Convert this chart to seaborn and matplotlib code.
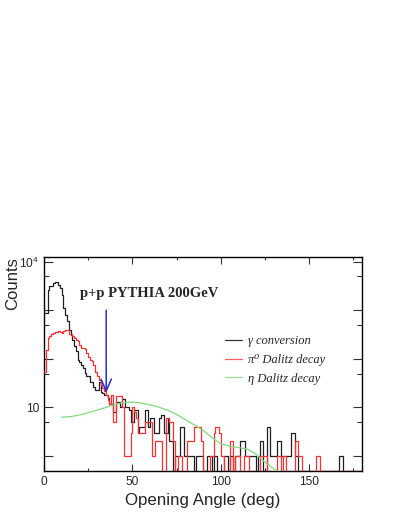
import numpy as np
import pandas as pd
import seaborn as sns
import matplotlib.pyplot as plt
from matplotlib.lines import Line2D


# ==============================
# Data (1 deg bins from 0 to 180)
# ==============================
bin_edges = list(range(0, 181))

gamma_counts = [
    900, 900, 2640, 3100, 3100, 3600, 3800, 3800, 3330, 2880,   # 0-9
    2100, 1120, 810, 590, 400, 315, 250, 180, 145, 96,          # 10-19
    86, 76, 65, 51, 44, 44, 34, 34, 27, 23,                     # 20-29
    23, 34, 21, 20, 18, 18, 16, 12, 12, 8,                      # 30-39
    8, 13, 13, 10, 15, 15, 10, 10, 9, 5,                        # 40-49
    5, 9, 9, 3, 4, 4, 4, 9, 9, 4,                               # 50-59
    6, 6, 3, 3, 3, 6, 7, 7, 3, 3,                               # 60-69
    6, 2, 2, 0, 1, 1, 1, 4, 4, 1,                               # 70-79
    1, 1, 1, 1, 1, 0, 1, 1, 1, 1,                               # 80-89
    0, 0, 1, 1, 1, 0, 1, 1, 0, 0,                               # 90-99
    0, 0, 1, 1, 0, 1, 1, 0, 1, 1,                               # 100-109
    1, 2, 2, 2, 1, 1, 1, 1, 1, 1,                               # 110-119
    0, 1, 2, 2, 0, 0, 4, 4, 1, 1,                               # 120-129
    1, 1, 2, 2, 1, 1, 1, 1, 1, 1,                               # 130-139
    3, 3, 1, 1, 0, 0, 0, 0, 0, 0,                               # 140-149
    0, 0, 0, 0, 0, 0, 0, 0, 0, 0,                               # 150-159
    0, 0, 0, 0, 0, 0, 0, 1, 1, 0,                               # 160-169
    0, 0, 0, 0, 0, 0, 0, 0, 0, 0,                               # 170-179
]

pi0_counts = [
    55, 154, 270, 300, 320, 340, 350, 360, 370, 360,            # 0-9
    340, 380, 400, 400, 330, 320, 300, 270, 250, 230,           # 10-19
    190, 170, 167, 160, 131, 110, 96, 90, 76, 55,               # 20-29
    45, 37, 29, 25, 22, 18, 14, 12, 18, 5,                      # 30-39
    5, 17, 17, 17, 10, 1, 1, 1, 1, 3,                           # 40-49
    10, 8, 6, 3, 3, 3, 3, 5, 5, 5,                              # 50-59
    5, 1, 1, 2, 2, 2, 2, 0, 0, 6,                               # 60-69
    6, 5, 5, 2, 0, 0, 1, 1, 0, 0,                               # 70-79
    0, 2, 2, 2, 2, 4, 4, 4, 4, 2,                               # 80-89
    0, 0, 0, 0, 1, 1, 3, 4, 4, 3,                               # 90-99
    1, 1, 0, 0, 0, 2, 2, 0, 1, 1,                               # 100-109
    1, 0, 0, 1, 1, 1, 0, 0, 0, 0,                               # 110-119
    0, 0, 1, 1, 1, 1, 0, 0, 0, 0,                               # 120-129
    0, 0, 1, 1, 0, 1, 1, 0, 0, 0,                               # 130-139
    0, 0, 2, 2, 1, 1, 0, 0, 0, 0,                               # 140-149
    0, 0, 0, 0, 1, 1, 0, 0, 0, 0,                               # 150-159
    0, 0, 0, 0, 0, 0, 0, 0, 0, 0,                               # 160-169
    0, 0, 0, 0, 0, 0, 0, 0, 0, 0,                               # 170-179
]

# eta Dalitz curve, sampled points
eta_angle = [10, 15, 20, 25, 30, 35, 40, 45, 50, 55, 60, 65, 70, 75, 80,
             85, 90, 95, 100, 105, 110, 115, 120, 125, 130, 132]
eta_counts = [6.3, 6.5, 7.0, 7.8, 8.8, 10.0, 11.5, 12.6, 12.9, 12.4, 11.3,
              10.2, 8.8, 7.2, 5.6, 4.4, 3.4, 2.4, 1.8, 1.6, 1.5, 1.4, 1.1,
              0.75, 0.55, 0.5]

legend_labels = ["\u03b3 conversion", "\u03c0\u2070 Dalitz decay", "\u03b7 Dalitz decay"]

# cut marker (arrow)
arrow_angle = 35.2
arrow_top = 1000
arrow_tip = 20

Y_MIN, Y_MAX = 0.5, 12500

COL_GAMMA = "#202020"
COL_PI0 = "#ff3030"
COL_ETA = "#7fdc7f"


# ==============================
# Style
# ==============================
sns.set_style("ticks")
plt.rcParams["font.family"] = ["Liberation Sans", "DejaVu Sans"]
plt.rcParams["mathtext.fontset"] = "custom"
plt.rcParams["mathtext.rm"] = "Liberation Sans"

fig = plt.figure(figsize=(3.99, 5.16), dpi=100)
ax = fig.add_axes([0.1103, 0.0878, 0.797, 0.4141])

centers = np.array(bin_edges[:-1]) + 0.5
df = pd.DataFrame({
    "angle": np.concatenate([centers, centers]),
    "count": np.concatenate([gamma_counts, pi0_counts]),
    "source": ["gamma"] * len(centers) + ["pi0"] * len(centers),
})
# empty bins are drawn on the lower frame like ROOT does
df["shown"] = df["count"].where(df["count"] > 0, Y_MIN)

for src, col in [("gamma", COL_GAMMA), ("pi0", COL_PI0)]:
    sns.histplot(
        data=df[df["source"] == src],
        x="angle",
        weights="shown",
        bins=bin_edges,
        element="step",
        fill=False,
        color=col,
        linewidth=0.9,
        ax=ax,
        zorder=3,
    )

sns.lineplot(x=eta_angle, y=eta_counts, color=COL_ETA, linewidth=0.9, ax=ax, zorder=3)

ax.annotate(
    "",
    xy=(arrow_angle, arrow_tip),
    xytext=(arrow_angle, arrow_top),
    arrowprops=dict(arrowstyle="->,head_length=0.85,head_width=0.37", color="#2b2bd8",
                    lw=1.1, shrinkA=0, shrinkB=0),
    zorder=4,
)

ax.set_yscale("log")
ax.set_xlim(0, 180)
ax.set_ylim(Y_MIN, Y_MAX)

# ticks
ax.set_xticks([0, 50, 100, 150])
ax.set_xticks([25, 75, 125, 175], minor=True)
ax.set_yticks([1, 10, 100, 1000, 10000])
ax.set_yticklabels(["", "10", "", "", r"$10^{4}$"])
ax.set_yticks([5, 50, 500, 5000], minor=True)
ax.set_yticklabels([], minor=True)
ax.tick_params(axis="both", which="both", direction="in", top=True, right=True,
               labelsize=8.6, pad=3.5, width=0.8, color="#333333")
ax.tick_params(axis="x", which="major", length=5)
ax.tick_params(axis="x", which="minor", length=2.5)
ax.tick_params(axis="y", which="major", length=6.5)
ax.tick_params(axis="y", which="minor", length=3.5)

for sp in ax.spines.values():
    sp.set_linewidth(1.0)
    sp.set_color("black")

ax.set_xlabel("Opening Angle (deg)", fontsize=12.2)
ax.set_ylabel("Counts", fontsize=12, loc="top")
ax.xaxis.set_label_coords(0.5, -0.105)
ax.yaxis.set_label_coords(-0.075, 1.0)

ax.text(0.113, 0.813, "p+p PYTHIA 200GeV", transform=ax.transAxes,
        family=["Liberation Serif", "DejaVu Serif"], fontweight="bold",
        fontsize=10.5, va="baseline", ha="left")

handles = [Line2D([], [], color=c, lw=0.9) for c in ("#333333", "#ff6060", "#90e090")]
ax.legend(handles, legend_labels, loc="upper left", bbox_to_anchor=(0.569, 0.635),
          frameon=False, borderpad=0, borderaxespad=0, handlelength=1.35,
          handletextpad=0.5, labelspacing=0.55,
          prop={"family": ["Liberation Serif", "DejaVu Serif"], "style": "italic", "size": 9})

fig.savefig("out.png", dpi=100, facecolor="white")
